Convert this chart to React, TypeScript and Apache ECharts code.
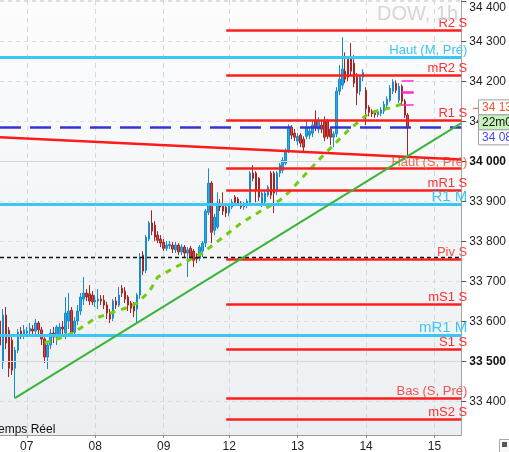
import React, { useEffect, useRef } from 'react';
import * as echarts from 'echarts';

// ---- categories: hourly candles grouped by trading day ----
const days = ['06', '07', '08', '09', '12', '13', '14', '15'];
const candlesPerDay = [9, 23, 23, 22, 23, 23, 23, 10];
const firstHour = [14, 0, 0, 0, 0, 0, 0, 0];

// ---- candles: [open, close, low, high] ----
const ohlc: number[][] = [
  [33600, 33540, 33510, 33625], [33497, 33615, 33480, 33630], [33615, 33545, 33530, 33635],
  [33577, 33482, 33460, 33585], [33552, 33477, 33465, 33560], [33482, 33527, 33407, 33535],
  [33527, 33572, 33520, 33580], [33575, 33565, 33555, 33585], [33565, 33578, 33555, 33590],
  [33570, 33575, 33560, 33585], [33575, 33582, 33565, 33595], [33580, 33575, 33565, 33590],
  [33575, 33595, 33560, 33605], [33595, 33578, 33560, 33600], [33578, 33555, 33540, 33585],
  [33555, 33510, 33495, 33560], [33510, 33540, 33480, 33550], [33540, 33570, 33530, 33580],
  [33570, 33560, 33545, 33585], [33560, 33585, 33540, 33590], [33565, 33585, 33555, 33595],
  [33585, 33580, 33565, 33600], [33570, 33620, 33555, 33660], [33600, 33625, 33580, 33670],
  [33627, 33572, 33560, 33635], [33572, 33600, 33565, 33610], [33600, 33625, 33590, 33640],
  [33625, 33660, 33615, 33670], [33655, 33670, 33640, 33710], [33670, 33660, 33650, 33680],
  [33668, 33650, 33640, 33690], [33665, 33648, 33640, 33675], [33648, 33652, 33635, 33665],
  [33650, 33655, 33630, 33680], [33655, 33650, 33640, 33665], [33652, 33640, 33630, 33665],
  [33640, 33620, 33605, 33648], [33620, 33605, 33595, 33630], [33607, 33650, 33600, 33655],
  [33650, 33640, 33630, 33660], [33640, 33665, 33635, 33685], [33682, 33670, 33660, 33690],
  [33675, 33655, 33645, 33685], [33660, 33640, 33625, 33665], [33645, 33632, 33620, 33650],
  [33640, 33625, 33610, 33648], [33630, 33665, 33595, 33670], [33665, 33760, 33655, 33770],
  [33765, 33725, 33715, 33775], [33727, 33810, 33720, 33815], [33805, 33845, 33800, 33850],
  [33845, 33825, 33815, 33877], [33840, 33810, 33800, 33850], [33815, 33802, 33795, 33825],
  [33805, 33795, 33785, 33815], [33797, 33782, 33775, 33805], [33782, 33790, 33775, 33800],
  [33788, 33792, 33780, 33800], [33790, 33780, 33770, 33798], [33778, 33790, 33770, 33798],
  [33790, 33773, 33765, 33795], [33773, 33785, 33765, 33792], [33785, 33770, 33760, 33790],
  [33770, 33778, 33710, 33785], [33782, 33760, 33750, 33788], [33775, 33752, 33735, 33780],
  [33760, 33755, 33745, 33770], [33757, 33785, 33750, 33790], [33775, 33795, 33760, 33800],
  [33795, 33875, 33785, 33880], [33872, 33945, 33865, 33982], [33945, 33822, 33795, 33950],
  [33827, 33860, 33815, 33868], [33835, 33895, 33830, 33922], [33895, 33885, 33875, 33905],
  [33890, 33875, 33865, 33922], [33885, 33870, 33860, 33890], [33870, 33888, 33862, 33892],
  [33885, 33897, 33880, 33905], [33910, 33897, 33890, 33915], [33905, 33895, 33888, 33910],
  [33895, 33885, 33880, 33900], [33885, 33892, 33878, 33898], [33890, 33900, 33882, 33905],
  [33897, 33970, 33890, 33975], [33970, 33957, 33950, 33990], [33970, 33927, 33897, 33975],
  [33957, 33910, 33900, 33960], [33895, 33920, 33885, 33925], [33898, 33920, 33890, 33925],
  [33915, 33935, 33910, 33940], [33970, 33915, 33905, 33975], [33970, 33920, 33870, 33975],
  [33925, 33970, 33915, 33975], [33970, 33990, 33960, 33995], [33977, 34002, 33970, 34010],
  [33995, 34027, 33990, 34032], [34025, 34085, 34020, 34092], [34085, 34065, 34055, 34090],
  [34070, 34060, 34050, 34080], [34050, 34062, 34040, 34070], [34065, 34045, 34035, 34070],
  [34055, 34035, 34025, 34062], [34062, 34085, 34055, 34102], [34065, 34075, 34055, 34085],
  [34070, 34090, 34060, 34100], [34102, 34085, 34075, 34127], [34080, 34100, 34070, 34110],
  [34090, 34080, 34070, 34100], [34102, 34060, 34050, 34112], [34100, 34062, 34055, 34105],
  [34080, 34060, 34040, 34085], [34060, 34068, 34035, 34075], [34068, 34175, 34060, 34185],
  [34175, 34205, 34165, 34240], [34190, 34230, 34180, 34310], [34225, 34205, 34195, 34272],
  [34255, 34210, 34200, 34262], [34260, 34225, 34215, 34295], [34245, 34195, 34185, 34265],
  [34210, 34170, 34140, 34220], [34175, 34210, 34165, 34215], [34210, 34222, 34200, 34230],
  [34177, 34132, 34090, 34185], [34135, 34122, 34112, 34140], [34125, 34118, 34110, 34130],
  [34122, 34116, 34108, 34128], [34116, 34124, 34110, 34130], [34120, 34128, 34112, 34135],
  [34125, 34142, 34118, 34150], [34140, 34155, 34132, 34162], [34152, 34182, 34148, 34190],
  [34175, 34198, 34168, 34205], [34195, 34177, 34170, 34202], [34152, 34187, 34145, 34195],
  [34187, 34150, 34140, 34192], [34150, 34115, 34108, 34155], [34115, 34085, 34007, 34120],
];

// ---- dashed green average: readings at some candles ----
const maIndex = [15, 20, 25, 32, 42, 46, 50, 53, 59, 68, 75, 81, 88, 94, 97, 108, 117, 124, 132, 136];
const maValue = [33545, 33557, 33572, 33607, 33632, 33645, 33672, 33710, 33735, 33770, 33810, 33845, 33877, 33902, 33922, 34010, 34077, 34120, 34135, 34145];

// ---- trend lines: [index, value] end points ----
const redTrend = [[0, 34060], [155, 34004]];
const greenTrend = [[5, 33407], [155, 34095]];

// ---- weekly / session pivot levels ----
const sessionLevelNames = ['R2 S', 'mR2 S', 'R1 S', 'Haut (S, Pré)', 'mR1 S', 'Piv S', 'mS1 S', 'S1 S', 'Bas (S, Pré)', 'mS2 S'];
const sessionLevelValues = [34328, 34215, 34102, 33981, 33927, 33755, 33642, 33529, 33407, 33354];
const sessionStartIndex = 76;
const monthLevelNames = ['Haut (M, Pré)', 'R1 M', 'mR1 M'];
const monthLevelValues = [34261, 33892, 33564];
const bidLevel = 34085;
const closeRefLevel = 33760;
const boldGridLevels = [34000, 33500];
const pinkLevels = [34200, 34172, 34142];
const pinkRange = [135, 139];

// ---- right-side price boxes ----
const priceBoxes = ['34 132', '22m02', '34 082'];
const priceBoxAnchor = 34132;

const yMin = 33315;
const yMax = 34403;

// ---------------------------------------------------------------
const FONT = '"Liberation Sans", Arial, sans-serif';
const RED = '#ff1e1e';
const CYAN = '#3cc6f4';
const labelColor: Record<string, string> = {
  'Haut (S, Pré)': '#f06a4c',
  'Piv S': '#ff4c4c',
  'Bas (S, Pré)': '#f25252',
};
const monthFont: Record<string, number> = { 'Haut (M, Pré)': 13, 'R1 M': 15, 'mR1 M': 15 };

function buildCategories() {
  const cats: string[] = [];
  const starts = new Set<number>();
  days.forEach((d, k) => {
    for (let h = 0; h < candlesPerDay[k]; h++) {
      if (h === 0 && k > 0) starts.add(cats.length);
      cats.push(`${d} ${String(firstHour[k] + h).padStart(2, '0')}h`);
    }
  });
  return { cats, starts };
}

function sparse(n: number, idx: number[], vals: number[]) {
  const arr: (number | null)[] = new Array(n).fill(null);
  idx.forEach((i, k) => (arr[i] = vals[k]));
  return arr;
}

function fmt(v: number) {
  return `${Math.floor(v / 1000)} ${String(Math.round(v % 1000)).padStart(3, '0')}`;
}

export default function App() {
  const ref = useRef<HTMLDivElement>(null);
  useEffect(() => {
    if (!ref.current) return;
    const chart = echarts.init(ref.current, undefined, { renderer: 'svg' });
    const { cats, starts } = buildCategories();
    const n = cats.length;
    const isStart = (i: number) => starts.has(i);

    const sessionLines = sessionLevelNames.map((name, k) => [
      {
        coord: [sessionStartIndex, sessionLevelValues[k]],
        lineStyle: { color: RED, width: 2.5, type: 'solid' },
        label: {
          show: true,
          position: 'insideEndTop',
          formatter: name,
          color: labelColor[name] || '#ff3030',
          fontSize: 13,
          fontFamily: FONT,
          distance: [-6, 1],
        },
      },
      { coord: [n - 1, sessionLevelValues[k]] },
    ]);

    const monthLines = monthLevelNames.map((name, k) => ({
      yAxis: monthLevelValues[k],
      lineStyle: { color: CYAN, width: 3, type: 'solid' },
      label: {
        show: true,
        position: 'insideEndTop',
        formatter: name,
        color: CYAN,
        fontSize: monthFont[name],
        fontFamily: FONT,
        distance: [-6, 1],
      },
    }));

    const pinkLines = pinkLevels.map((v, k) => [
      { coord: [pinkRange[0], v], lineStyle: { color: '#ff2ad4', width: k === 1 ? 2.5 : 1.5, type: 'solid' } },
      { coord: [pinkRange[1], v] },
    ]);

    const option: any = {
      animation: false,
      textStyle: { fontFamily: FONT },
      grid: {
        left: 0,
        right: 36,
        top: 0,
        bottom: 17,
        show: true,
        borderWidth: 0,
        backgroundColor: new echarts.graphic.LinearGradient(0, 0, 0, 1, [
          { offset: 0, color: '#fcfcfd' },
          { offset: 1, color: '#eceff1' },
        ]),
      },
      xAxis: {
        type: 'category',
        data: cats,
        boundaryGap: false,
        axisLine: { lineStyle: { color: '#9c9c9c', width: 1 } },
        axisTick: { show: true, interval: (i: number) => isStart(i), length: 3, lineStyle: { color: '#888' } },
        axisLabel: {
          interval: (i: number) => isStart(i),
          formatter: (v: string) => v.slice(0, 2),
          color: '#222',
          fontSize: 12,
          margin: 5,
          fontFamily: FONT,
        },
        splitLine: {
          show: true,
          interval: (i: number) => isStart(i),
          lineStyle: { color: '#d6d9dc', type: [5, 4], width: 1 },
        },
      },
      yAxis: {
        type: 'value',
        position: 'right',
        min: yMin,
        max: yMax,
        splitNumber: 11,
        axisLine: { show: true, lineStyle: { color: '#a6a6a6', width: 1 } },
        axisTick: { show: true, length: 5, lineStyle: { color: '#555' } },
        axisLabel: {
          showMinLabel: false,
          showMaxLabel: false,
          margin: 8,
          color: '#222',
          fontSize: 12,
          fontFamily: FONT,
          formatter: (v: number) => {
            if (boldGridLevels.includes(v)) return `{b|${fmt(v)}}`;
            if (v === 34400) return `{t|${fmt(v)}}`;
            return fmt(v);
          },
          rich: {
            b: { fontWeight: 'bold', fontSize: 12, color: '#111', fontFamily: FONT },
            t: { fontSize: 12, color: '#222', padding: [11, 0, 0, 0], fontFamily: FONT },
          },
        },
        splitLine: { show: true, lineStyle: { color: '#dcdfe2', type: [4, 4], width: 1 } },
      },
      series: [
        {
          type: 'line',
          name: 'grid-solid',
          data: [],
          z: 1,
          silent: true,
          markLine: {
            silent: true,
            symbol: ['none', 'none'],
            label: { show: false },
            data: boldGridLevels.map((v) => ({ yAxis: v, lineStyle: { color: '#d4d7da', width: 1, type: 'solid' } })),
          },
        },
        {
          type: 'candlestick',
          name: 'DOW',
          data: ohlc,
          barWidth: 2,
          z: 2,
          itemStyle: {
            color: '#27abe4',
            color0: '#cf4747',
            borderColor: '#178ccc',
            borderColor0: '#a52525',
            borderWidth: 1,
          },
        },
        {
          type: 'line',
          name: 'levels',
          data: [],
          z: 3,
          silent: true,
          markLine: {
            silent: true,
            symbol: ['none', 'none'],
            data: [
              ...sessionLines,
              ...monthLines,
              { yAxis: bidLevel, lineStyle: { color: '#3434d6', width: 2.5, type: [21, 9] }, label: { show: false } },
              { yAxis: closeRefLevel, lineStyle: { color: '#111', width: 1.3, type: [4, 3] }, label: { show: false } },
              ...pinkLines,
            ],
          },
        },
        {
          type: 'line',
          name: 'MA',
          data: sparse(n, maIndex, maValue),
          connectNulls: true,
          symbol: 'none',
          z: 4,
          lineStyle: { color: '#72cc12', width: 3, type: [6, 6] },
        },
        {
          type: 'line',
          name: 'red trend',
          data: sparse(n, redTrend.map((p) => p[0]), redTrend.map((p) => p[1])),
          connectNulls: true,
          symbol: 'none',
          z: 5,
          lineStyle: { color: '#ff1a1a', width: 2.5 },
        },
        {
          type: 'line',
          name: 'green trend',
          data: sparse(n, greenTrend.map((p) => p[0]), greenTrend.map((p) => p[1])),
          connectNulls: true,
          symbol: 'none',
          z: 5,
          lineStyle: { color: '#3bb43b', width: 2 },
        },
      ],
    };
    chart.setOption(option);

    const y0 = chart.convertToPixel({ yAxisIndex: 0 }, priceBoxAnchor) as number;
    const boxStyles = [
      { fill: '#ffffff', text: '#f0522c' },
      { fill: '#c6f3bd', text: '#111111' },
      { fill: '#ffffff', text: '#4848f0' },
    ];
    const boxes: any[] = [];
    priceBoxes.forEach((t, k) => {
      const cy = y0 - 1 + k * 15;
      boxes.push({
        type: 'rect',
        id: 'box' + k,
        shape: { x: 478.5, y: cy - 7.5, width: 40, height: 15 },
        style: { fill: boxStyles[k].fill, stroke: '#a0a0a0', lineWidth: 1 },
        z: 10,
      });
      boxes.push({
        type: 'text',
        id: 'boxt' + k,
        x: 482,
        y: cy,
        style: { text: t, fill: boxStyles[k].text, fontSize: 12, fontFamily: FONT, verticalAlign: 'middle' },
        z: 11,
      });
    });
    chart.setOption({
      graphic: [
        ...boxes,
        {
          type: 'line',
          id: 'tick132',
          shape: { x1: 473, y1: y0, x2: 478, y2: y0 },
          style: { stroke: '#f05a2c', lineWidth: 1 },
          z: 10,
        },
        {
          type: 'text',
          id: 'wm',
          x: 377,
          y: 3,
          style: { text: 'DOW, 1h', fill: '#d6d6d6', fontSize: 20, fontFamily: FONT },
          z: 10,
        },
        {
          type: 'text',
          id: 'rt',
          x: -8,
          y: 423,
          style: { text: 'Temps Réel', fill: '#111', fontSize: 12, fontFamily: FONT },
          z: 10,
        },
        {
          type: 'rect',
          id: 'ico',
          shape: { x: 499.5, y: 439.5, width: 14, height: 14 },
          style: { fill: '#f7f7f7', stroke: '#a8a8a8', lineWidth: 1 },
          z: 10,
        },
        {
          type: 'rect',
          id: 'ico2',
          shape: { x: 502, y: 442, width: 5, height: 5 },
          style: { fill: '#555' },
          z: 11,
        },
      ],
    });

    return () => chart.dispose();
  }, []);

  return <div ref={ref} style={{ position: 'fixed', left: 0, top: 0, width: 509, height: 452 }} />;
}
